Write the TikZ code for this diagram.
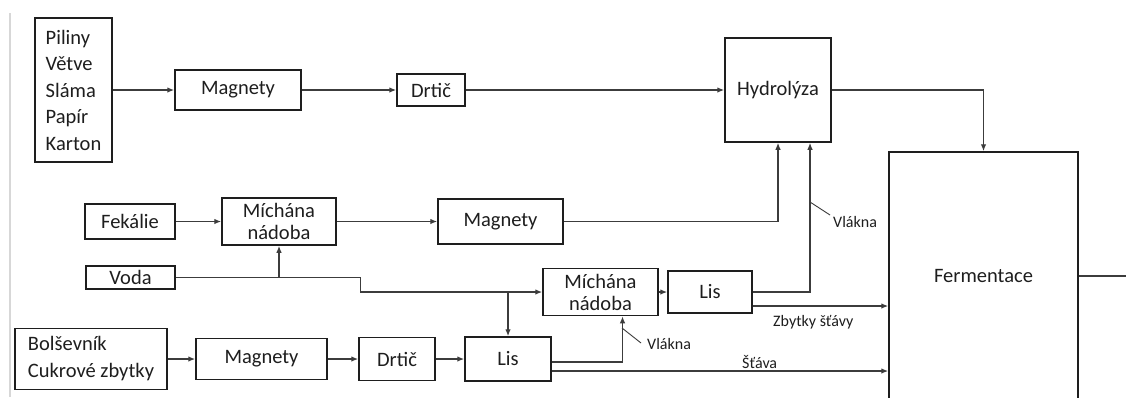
\documentclass[tikz,border=0pt]{standalone}
\usepackage{fontspec}
\setmainfont{Carlito}
\usepackage{xcolor}
\usepackage{tikz}
\usetikzlibrary{arrows.meta, calc}
\definecolor{ink}{RGB}{30, 30, 30}
\definecolor{wire}{RGB}{60, 60, 60}
\definecolor{margin}{RGB}{215, 215, 215}

\begin{document}
\begin{tikzpicture}[x=1pt, y=-1pt,
  bx/.style={rectangle, draw=ink, line width=1.5pt, inner sep=2pt,
    font=\fontsize{20.5pt}{24pt}\selectfont, text=ink,
    align=center},
  arr/.style={-{Latex[length=7pt, width=5.5pt]}, line width=1.3pt, color=wire},
  ln/.style={line width=1.3pt, color=wire},
  tick/.style={line width=0.9pt, color=wire},
  lbl/.style={font=\fontsize{16pt}{18pt}\selectfont, text=ink, inner sep=0pt}
]
\clip (0,0) rectangle (1126,397);
\fill[white] (0,0) rectangle (1126,397);
\draw[margin, line width=2pt] (10,13) -- (10,397);

\node[bx, minimum width=77, minimum height=144, align=left,
      font=\fontsize{20.5pt}{26.5pt}\selectfont]
  at (73.5, 90)  (src)   {Piliny\\Větve\\Sláma\\Papír\\Karton};
\node[bx, minimum width=126, minimum height=40]
  at (238, 90)   (mag1)  {Magnety};
\node[bx, minimum width=68, minimum height=32]
  at (431, 90)   (drt1)  {Drtič};
\node[bx, minimum width=106, minimum height=104]
  at (778, 90)   (hyd)   {Hydrolýza};
\node[bx, minimum width=189, minimum height=248]
  at (983.5, 276) (ferm) {Fermentace};

\node[bx, minimum width=90, minimum height=35]
  at (130, 221.5) (fek)  {Fekálie};
\node[bx, minimum width=114, minimum height=47, inner sep=0pt,
      font=\fontsize{20.5pt}{22pt}\selectfont]
  at (279, 221.5) (mich1) {Míchána\\nádoba};
\node[bx, minimum width=125, minimum height=45]
  at (500.5, 221.5) (mag2) {Magnety};
\node[bx, minimum width=89, minimum height=23, inner sep=0pt]
  at (130.5, 277.5) (voda) {Voda};
\node[bx, minimum width=115, minimum height=47, inner sep=0pt,
      font=\fontsize{20.5pt}{22pt}\selectfont]
  at (600.5, 292) (mich2) {Míchána\\nádoba};
\node[bx, minimum width=84, minimum height=42]
  at (710, 292)  (lis1)  {Lis};

\node[bx, minimum width=152, minimum height=61, align=left,
      font=\fontsize{20.5pt}{27pt}\selectfont]
  at (91, 359)   (bol)   {Bolševník\\Cukrové zbytky};
\node[bx, minimum width=131, minimum height=41]
  at (261.5, 359) (mag3) {Magnety};
\node[bx, minimum width=76, minimum height=43]
  at (397, 359)  (drt3)  {Drtič};
\node[bx, minimum width=86, minimum height=44]
  at (508, 359)  (lis2)  {Lis};

\draw[arr] (src.east)  -- (mag1.west);
\draw[arr] (mag1.east) -- (drt1.west);
\draw[arr] (drt1.east) -- (hyd.west);
\draw[arr] (hyd.east)  -| (ferm.north);

\draw[arr] (fek.east)  -- (mich1.west);
\draw[arr] (mich1.east) -- (mag2.west);
\draw[arr] (mag2.east) -| (hyd.south);
\draw[arr] (voda.east) -- ++(185,0) |- (mich2.west);
\draw[arr] (mich1.south |- voda.east) -- (mich1.south);
\draw[arr] (lis2.north |- mich2.west) -- (lis2.north);
\draw[arr] (mich2.east) -- (lis1.west);
\draw[arr] (lis1.east) -| ($(hyd.south)+(32,0)$);
\coordinate (zb) at ([yshift=-14pt]lis1.east);
\draw[arr] (zb) -- (zb -| ferm.west);

\draw[arr] (bol.east)  -- (mag3.west);
\draw[arr] (mag3.east) -- (drt3.west);
\draw[arr] (drt3.east) -- (lis2.west);
\draw[arr] ([yshift=-3pt]lis2.east) -| ($(mich2.south)+(22,0)$);
\coordinate (st) at ([yshift=-12pt]lis2.east);
\draw[arr] (st) -- (st -| ferm.west);

\coordinate (out) at (1130, 276);
\draw[ln] (ferm.east) -- (out);

\node[lbl, anchor=west] at (833, 222) (vlk1) {Vlákna};
\draw[tick] (810, 202) -- ([xshift=-3pt, yshift=7pt]vlk1.west);
\node[lbl, anchor=west] at (647, 344) (vlk2) {Vlákna};
\draw[tick] (622, 328) -- ([xshift=-6pt, yshift=1pt]vlk2.west);
\node[lbl, anchor=west] at (773, 322) (zbst) {Zbytky šťávy};
\node[lbl, anchor=base west] at (742, 368) (stava) {Šťáva};
\end{tikzpicture}
\end{document}
